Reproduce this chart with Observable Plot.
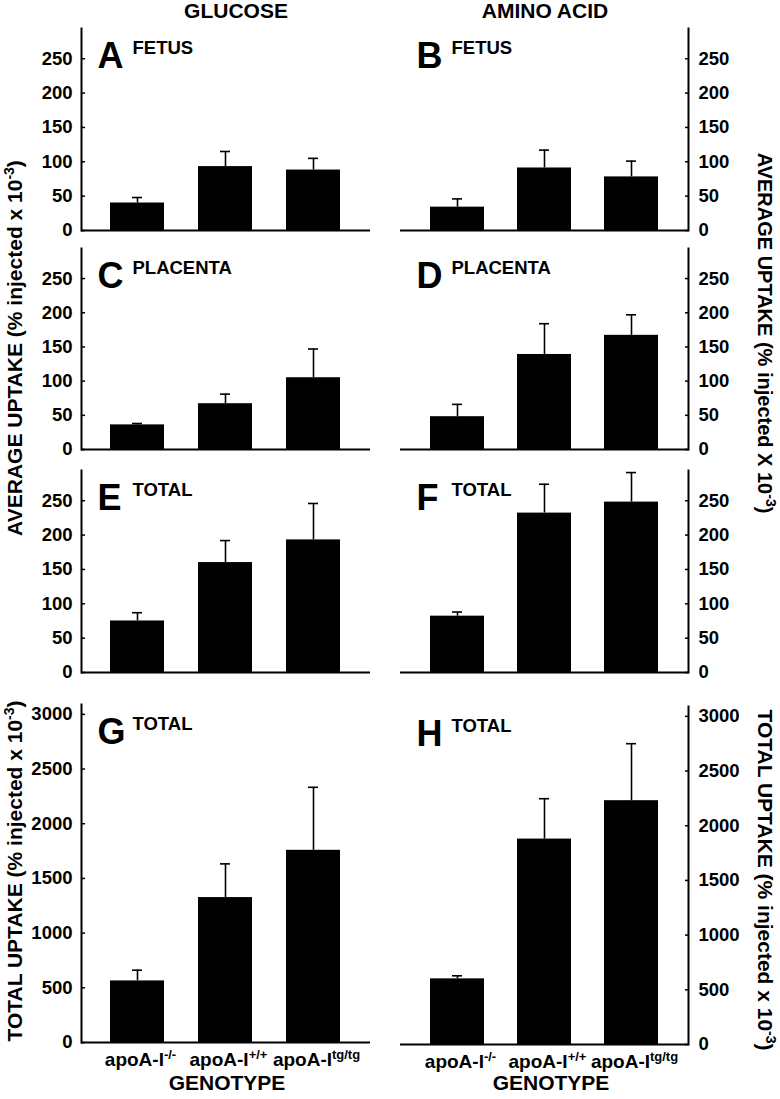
<!DOCTYPE html>
<html>
<head>
<meta charset="utf-8">
<script src="https://cdn.jsdelivr.net/npm/d3@7"></script>
<script src="https://cdn.jsdelivr.net/npm/@observablehq/plot@0.6"></script>
<style>
  html, body { margin: 0; padding: 0; background: #fff; }
  #root { position: relative; width: 780px; height: 1099px; overflow: hidden;
          font-family: "Liberation Sans", Arial, sans-serif; font-weight: bold; color: #000; }
  .panel { position: absolute; }
  #overlay { position: absolute; left: 0; top: 0; pointer-events: none; }
</style>
</head>
<body>
<div id="root"></div>
<script>
// ---- data ----
const genotypes = ["-/-", "+/+", "tg/tg"];
const genotypeBase = "apoA-I";
const avgTicks = [0, 50, 100, 150, 200, 250];
const totalTicks = [0, 500, 1000, 1500, 2000, 2500, 3000];

const glucoseFetus = [40, 93, 88];
const glucoseFetusSE = [8, 22, 17];
const aminoFetus = [34, 91, 78];
const aminoFetusSE = [12, 26, 23];
const glucosePlacenta = [36, 67, 105];
const glucosePlacentaSE = [2, 14, 42];
const aminoPlacenta = [48, 139, 167];
const aminoPlacentaSE = [18, 45, 30];
const glucoseAvgTotal = [75, 160, 193];
const glucoseAvgTotalSE = [12, 32, 53];
const aminoAvgTotal = [82, 232, 248];
const aminoAvgTotalSE = [6, 42, 43];
const glucoseTotal = [563, 1325, 1757];
const glucoseTotalSE = [98, 308, 576];
const aminoTotal = [600, 1878, 2229];
const aminoTotalSE = [28, 369, 521];

const avgMax = 294;
const totalMax = 3090;

// ---- layout ----
const panels = [
  {letter: "A", label: "FETUS",    values: glucoseFetus,    se: glucoseFetusSE,    side: "left",  top: 28,  bottom: 230,  max: avgMax,   ticks: avgTicks},
  {letter: "B", label: "FETUS",    values: aminoFetus,      se: aminoFetusSE,      side: "right", top: 28,  bottom: 230,  max: avgMax,   ticks: avgTicks},
  {letter: "C", label: "PLACENTA", values: glucosePlacenta, se: glucosePlacentaSE, side: "left",  top: 248, bottom: 449,  max: avgMax,   ticks: avgTicks},
  {letter: "D", label: "PLACENTA", values: aminoPlacenta,   se: aminoPlacentaSE,   side: "right", top: 248, bottom: 449,  max: avgMax,   ticks: avgTicks},
  {letter: "E", label: "TOTAL",    values: glucoseAvgTotal, se: glucoseAvgTotalSE, side: "left",  top: 470, bottom: 672,  max: avgMax,   ticks: avgTicks},
  {letter: "F", label: "TOTAL",    values: aminoAvgTotal,   se: aminoAvgTotalSE,   side: "right", top: 470, bottom: 672,  max: avgMax,   ticks: avgTicks},
  {letter: "G", label: "TOTAL",    values: glucoseTotal,    se: glucoseTotalSE,    side: "left",  top: 704, bottom: 1042, max: totalMax, ticks: totalTicks, xLabels: true},
  {letter: "H", label: "TOTAL",    values: aminoTotal,      se: aminoTotalSE,      side: "right", top: 706, bottom: 1044, max: totalMax, ticks: totalTicks, xLabels: true}
];

const FONT = '"Liberation Sans", Arial, sans-serif';
const root = document.getElementById("root");
const NS = "http://www.w3.org/2000/svg";

for (const p of panels) {
  const left = p.side === "left";
  const mt = 10, mb = p.xLabels ? 40 : 14;
  const ml = left ? 81 : 10, mr = left ? 20 : 92;
  const data = genotypes.map((g, i) => ({g, v: p.values[i], e: p.se[i]}));
  const chart = Plot.plot({
    width: 390,
    height: p.bottom - p.top + mt + mb,
    marginTop: mt, marginBottom: mb, marginLeft: ml, marginRight: mr,
    style: {fontFamily: FONT, fontWeight: "bold", fontSize: "18px", color: "#000", background: "transparent", overflow: "visible"},
    x: {domain: genotypes, paddingInner: 0.385, paddingOuter: 0.333, axis: null},
    y: {domain: [0, p.max], axis: null},
    marks: [
      Plot.barY(data, {x: "g", y: "v", fill: "#000"}),
      Plot.ruleX(data, {x: "g", y1: "v", y2: d => d.v + d.e, stroke: "#000", strokeWidth: 1.6}),
      Plot.tickY(data, {x: "g", y: d => d.v + d.e, stroke: "#000", strokeWidth: 1.6, insetLeft: 22, insetRight: 22}),
      Plot.axisY({ticks: p.ticks, anchor: p.side, tickSize: 4, dx: left ? 4 : -4, fill: "none", label: null, strokeWidth: 1.5}),
      Plot.axisY({ticks: p.ticks, anchor: p.side, tickSize: 0, tickPadding: left ? 9 : 10, label: null,
                  tickFormat: d => String(d), fontSize: 18.5, fontWeight: "bold", fill: "#000"}),
      p.xLabels ? Plot.axisX({anchor: "bottom", tickSize: 0, tickPadding: 10, label: null, fontSize: 19, fontWeight: "bold", fill: "#000",
                              dx: 3, tickFormat: g => genotypeBase + g}) : null,
      Plot.frame({anchor: p.side, stroke: "#000", strokeWidth: 2}),
      Plot.ruleY([0], {stroke: "#000", strokeWidth: 2}),
      Plot.text([p.letter], {frameAnchor: "top-left", textAnchor: "start", lineAnchor: "bottom", dx: 16, dy: 39,
                             fontSize: 36, fontWeight: "bold", fill: "#000"}),
      Plot.text([p.label], {frameAnchor: "top-left", textAnchor: "start", lineAnchor: "bottom", dx: 51, dy: 25,
                            fontSize: 18.5, fontWeight: "bold", fill: "#000"})
    ]
  });
  if (p.xLabels) {
    chart.querySelectorAll('[aria-label="x-axis tick label"] text').forEach((t, i) => {
      t.textContent = "";
      const a = document.createElementNS(NS, "tspan");
      a.textContent = genotypeBase;
      const b = document.createElementNS(NS, "tspan");
      b.textContent = genotypes[i];
      b.setAttribute("dy", "-7");
      b.setAttribute("font-size", "13");
      t.append(a, b);
    });
  }
  const wrap = document.createElement("div");
  wrap.className = "panel";
  wrap.style.left = (left ? 0 : 390) + "px";
  wrap.style.top = (p.top - mt) + "px";
  wrap.appendChild(chart);
  root.appendChild(wrap);
}

// ---- titles & axis titles ----
const overlay = `
<svg id="overlay" xmlns="${NS}" width="780" height="1099" font-family='${FONT}' font-weight="bold" fill="#000">
  <text x="236" y="18" text-anchor="middle" font-size="21">GLUCOSE</text>
  <text x="545" y="18" text-anchor="middle" font-size="21">AMINO ACID</text>
  <text transform="translate(22,348) rotate(-90)" text-anchor="middle" font-size="21">AVERAGE UPTAKE (% injected x 10<tspan dy="-8" font-size="14">-3</tspan><tspan dy="8">)</tspan></text>
  <text transform="translate(22,871) rotate(-90)" text-anchor="middle" font-size="21">TOTAL UPTAKE (% injected x 10<tspan dy="-8" font-size="14">-3</tspan><tspan dy="8">)</tspan></text>
  <text transform="translate(758,333) rotate(90)" text-anchor="middle" font-size="20">AVERAGE UPTAKE (% injected X 10<tspan dy="-8" font-size="14">-3</tspan><tspan dy="8">)</tspan></text>
  <text transform="translate(758,880) rotate(90)" text-anchor="middle" font-size="21">TOTAL UPTAKE (% injected x 10<tspan dy="-8" font-size="14">-3</tspan><tspan dy="8">)</tspan></text>
  <text x="227" y="1090" text-anchor="middle" font-size="21">GENOTYPE</text>
  <text x="551" y="1090" text-anchor="middle" font-size="21">GENOTYPE</text>
</svg>`;
root.insertAdjacentHTML("beforeend", overlay);
</script>
</body>
</html>
